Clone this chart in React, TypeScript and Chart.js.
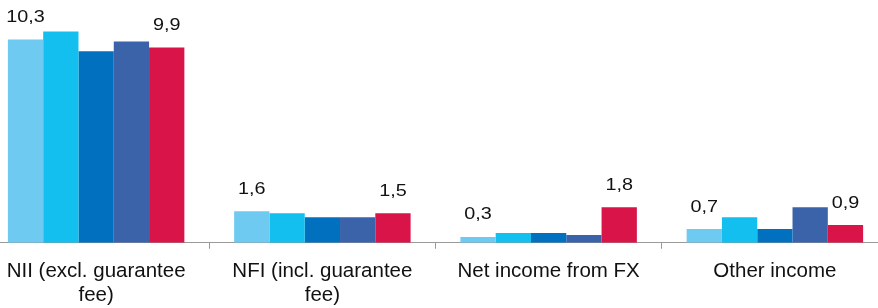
import React, { useEffect, useRef } from "react";
import { Chart, registerables } from "chart.js";

Chart.register(...registerables);

const categories: (string | string[])[] = [
  ["NII (excl. guarantee", "fee)"],
  ["NFI (incl. guarantee", "fee)"],
  "Net income from FX",
  "Other income",
];
const seriesNames = ["Period 1", "Period 2", "Period 3", "Period 4", "Period 5"];
const series1 = [10.3, 1.6, 0.3, 0.7];
const series2 = [10.7, 1.5, 0.5, 1.3];
const series3 = [9.7, 1.3, 0.5, 0.7];
const series4 = [10.2, 1.3, 0.4, 1.8];
const series5 = [9.9, 1.5, 1.8, 0.9];
const labelledSeries = [0, 4];

const colors = ["#6ECAF0", "#12BFEF", "#0070BF", "#3B63AA", "#D81449"];
const FONT = "'Liberation Sans', Arial, sans-serif";

const valueLabels = {
  id: "valueLabels",
  afterDatasetsDraw(chart: any) {
    const ctx = chart.ctx;
    labelledSeries.forEach((di) => {
      const meta = chart.getDatasetMeta(di);
      const data = chart.data.datasets[di].data as number[];
      meta.data.forEach((el: any, i: number) => {
        ctx.save();
        ctx.font = `16.5px ${FONT}`;
        ctx.fillStyle = "#111";
        ctx.textAlign = "center";
        ctx.textBaseline = "middle";
        ctx.translate(el.x, el.y - 22);
        ctx.scale(1.2, 1);
        ctx.fillText(data[i].toFixed(1).replace(".", ","), 0, 0);
        ctx.restore();
      });
    });
  },
};

export default function App() {
  const ref = useRef<HTMLCanvasElement | null>(null);
  useEffect(() => {
    if (!ref.current) return;
    const all = [series1, series2, series3, series4, series5];
    const chart = new Chart(ref.current, {
      type: "bar",
      data: {
        labels: categories,
        datasets: all.map((d, i) => ({
          label: seriesNames[i],
          data: d,
          backgroundColor: colors[i],
          borderWidth: 0,
          categoryPercentage: 0.78,
          barPercentage: 1,
        })),
      },
      options: {
        animation: false,
        responsive: false,
        maintainAspectRatio: false,
        layout: { padding: { top: 0, left: 0, right: 0, bottom: 0 } },
        plugins: { legend: { display: false }, tooltip: { enabled: false } },
        scales: {
          y: { display: false, min: 0, max: 12.3 },
          x: {
            grid: {
              drawOnChartArea: false,
              drawTicks: true,
              tickLength: 6,
              color: "#9a9a9a",
              offset: true,
            },
            border: { color: "#9a9a9a", width: 1 },
            ticks: {
              color: "#111",
              padding: 10,
              maxRotation: 0,
              autoSkip: false,
              font: { family: FONT, size: 20.5, lineHeight: 1.2 },
            },
          },
        },
      },
      plugins: [valueLabels],
    });
    return () => chart.destroy();
  }, []);
  return (
    <div style={{ position: "fixed", left: 0, top: 0, width: 878, height: 308, overflow: "hidden", background: "#fff" }}>
      <div style={{ position: "absolute", left: -17, top: 0, width: 905, height: 318 }}>
        <canvas ref={ref} width={905} height={318} style={{ width: 905, height: 318, display: "block" }} />
      </div>
    </div>
  );
}
